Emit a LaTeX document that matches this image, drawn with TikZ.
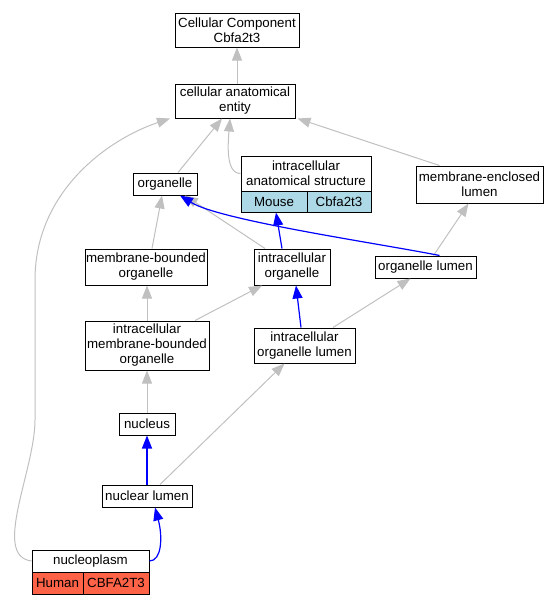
\documentclass[tikz,border=0pt]{standalone}
\usepackage{fontspec}
\setmainfont{Liberation Sans}
\usetikzlibrary{arrows.meta}
\definecolor{isagray}{HTML}{C0C0C0}
\definecolor{mouseblue}{HTML}{ADD8E6}
\definecolor{humanred}{HTML}{FF6347}
\begin{document}
\begin{tikzpicture}[x=1pt,y=-1pt,
    term/.style={draw, line width=1pt, fill=white, inner sep=0pt, align=center,
        font=\fontsize{13.3}{15}\selectfont},
    isa/.style={isagray, line width=1pt, -{Triangle[length=13pt,width=10pt]}},
    partof/.style={blue, line width=1.2pt, -{Triangle[length=13pt,width=10pt]}}]
    \useasboundingbox (0,0) rectangle (558,605);

    % terms
    \node[term, minimum width=124pt, minimum height=34pt] (cc) at (237,30) {Cellular Component\\Cbfa2t3};
    \node[term, minimum width=120pt, minimum height=34pt] (cae) at (235,101) {cellular anatomical\\entity};
    \node[term, minimum width=64pt, minimum height=22pt] (organelle) at (165,184) {organelle};
    \node[term, minimum width=130pt, minimum height=35pt] (ias) at (306,173.5) {intracellular\\anatomical structure};
    \node[term, fill=mouseblue, minimum width=66pt, minimum height=21pt] (iasmouse) at (274,201.5) {Mouse};
    \node[term, fill=mouseblue, minimum width=64pt, minimum height=21pt] (iasgene) at (339,201.5) {Cbfa2t3};
    \node[term, minimum width=127pt, minimum height=37pt] (mel) at (479.5,184.5) {membrane-enclosed\\lumen};
    \node[term, minimum width=122pt, minimum height=36pt] (mbo) at (146,267) {membrane-bounded\\organelle};
    \node[term, minimum width=76pt, minimum height=36pt] (io) at (292,267) {intracellular\\organelle};
    \node[term, minimum width=101pt, minimum height=22pt] (olumen) at (425.5,267) {organelle lumen};
    \node[term, minimum width=124pt, minimum height=49pt] (imbo) at (147,345.5) {intracellular\\membrane-bounded\\organelle};
    \node[term, minimum width=101pt, minimum height=35pt] (iol) at (304.5,345.5) {intracellular\\organelle lumen};
    \node[term, minimum width=56pt, minimum height=22pt] (nucleus) at (147,424) {nucleus};
    \node[term, minimum width=90pt, minimum height=22pt] (nlumen) at (147,496) {nuclear lumen};
    \node[term, minimum width=117pt, minimum height=22pt] (nplasm) at (90.5,561) {nucleoplasm};
    \node[term, fill=humanred, minimum width=51pt, minimum height=22pt] (nphuman) at (57.5,583) {Human};
    \node[term, fill=humanred, minimum width=66pt, minimum height=22pt] (npgene) at (116,583) {CBFA2T3};

    % is_a
    \draw[isa] (cae.north -| cc.south) -- (cc.south);
    \draw[isa] ([xshift=13pt]organelle.north) -- ([xshift=-13pt]cae.south);
    \draw[isa] (ias.west) .. controls +(-15,0) and +(-2,25) .. ([xshift=-5pt]cae.south);
    \draw[isa] ([xshift=-40pt]mel.north) -- ([xshift=2pt]cae.south east);
    \draw[isa] (nplasm.west) .. controls +(-40,-5) and +(0,50) .. (35,420) -- (35,280)
        .. controls +(0,-90) and +(-60,20) .. ([xshift=-65pt]cae.south);
    \draw[isa] ([xshift=6pt]mbo.north) -- ([xshift=-3pt]organelle.south);
    \draw[isa] ([xshift=-27pt]io.north) -- ([xshift=20pt]organelle.south);
    \draw[isa] ([xshift=8pt]olumen.north) -- ([xshift=-11pt]mel.south);
    \draw[isa] (imbo.north) -- (imbo.north |- mbo.south);
    \draw[isa] ([xshift=48pt]imbo.north) -- ([xshift=-30pt]io.south);
    \draw[isa] ([xshift=28.5pt]iol.north) -- ([xshift=-15pt]olumen.south);
    \draw[isa] (nucleus) -- (imbo);
    \draw[isa] ([xshift=13pt]nlumen.north) -- ([xshift=-20pt]iol.south);

    % part_of
    \draw[partof] ([xshift=14pt]olumen.north) .. controls +(-60,-12) and +(40,25) .. ([xshift=15pt]organelle.south);
    \draw[partof] ([xshift=-10pt]io.north) -- ([xshift=2pt]iasmouse.south);
    \draw[partof] ([xshift=-3.5pt]iol.north) -- ([xshift=4pt]io.south);
    \draw[partof] (nlumen) -- (nucleus);
    \draw[partof] (nplasm.east) .. controls +(12,0) and +(8,30) .. ([xshift=8pt]nlumen.south);
\end{tikzpicture}
\end{document}
